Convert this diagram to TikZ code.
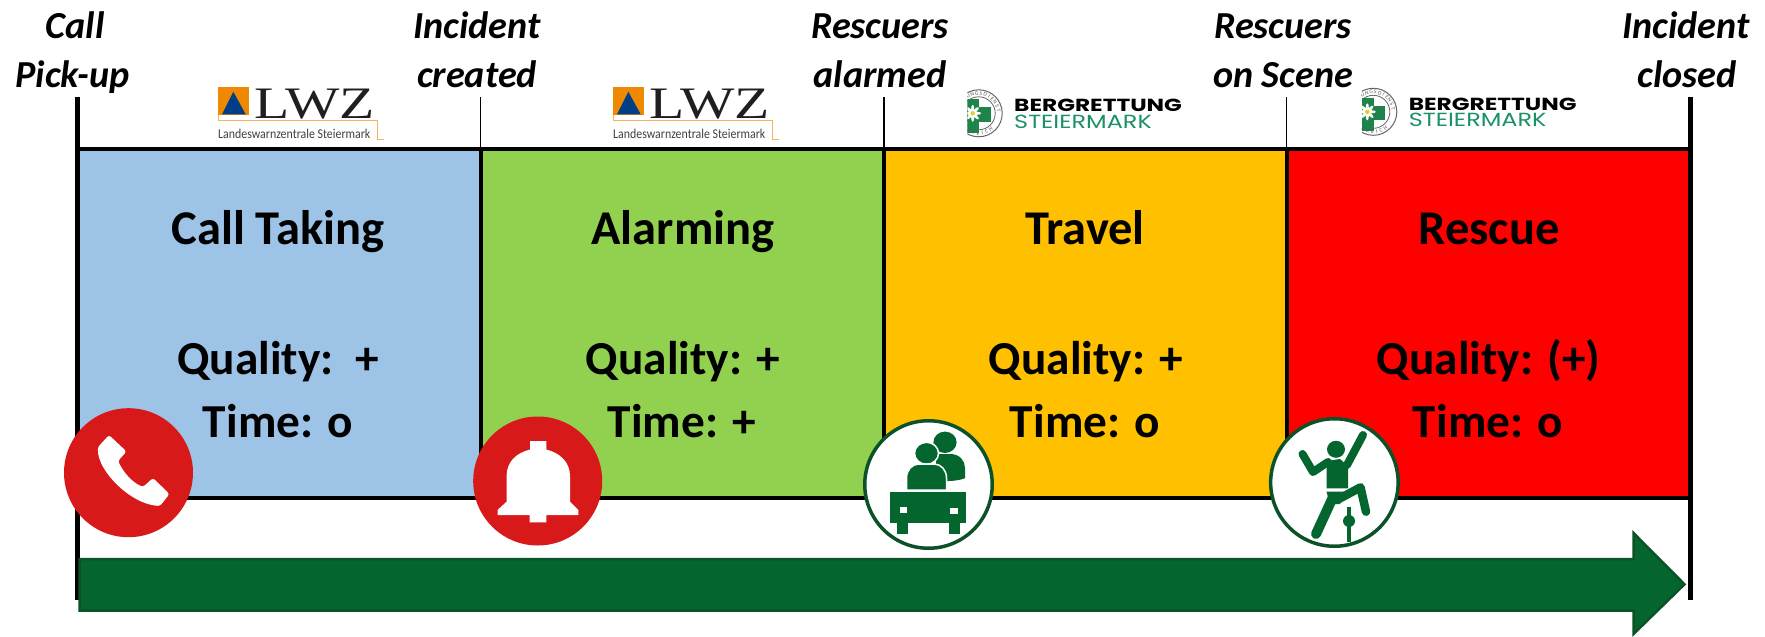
\documentclass[tikz,border=0pt]{standalone}
\usepackage{fontspec}
\usepackage{graphicx}
\setmainfont{Carlito}
\newfontfamily\logoserif{Liberation Serif}
\newfontfamily\logosans{Poppins}
\definecolor{phaseblue}{HTML}{9DC3E6}
\definecolor{phasegreen}{HTML}{92D050}
\definecolor{phaseorange}{HTML}{FFC000}
\definecolor{phasered}{HTML}{FF0000}
\definecolor{icongreen}{HTML}{04662E}
\definecolor{edgegreen}{HTML}{0B5229}
\definecolor{alarmred}{HTML}{D81919}
\definecolor{lwzorange}{HTML}{EF8A00}
\definecolor{lwzline}{HTML}{F6B25C}
\definecolor{lwzblue}{HTML}{003F87}
\definecolor{bergtext}{HTML}{1B9265}
\definecolor{crossgreen}{HTML}{1E8449}
\tikzset{
  phase/.style={rectangle,draw=black,line width=4pt,inner sep=0pt,minimum width=403.5pt,minimum height=349pt,anchor=center},
  headlabel/.style={font=\fontsize{38.2}{38.2}\selectfont\bfseries\itshape,anchor=base,inner sep=0pt},
  titlelabel/.style={font=\fontsize{48.5}{48.5}\selectfont\bfseries,anchor=base,inner sep=0pt},
  infolabel/.style={font=\fontsize{47.3}{47.3}\selectfont\bfseries,anchor=base,inner sep=0pt},
  bar/.style={line width=5pt,black},
  tick/.style={line width=1.5pt,black},
  redbadge/.style={circle,fill=alarmred,inner sep=0pt,minimum size=129pt},
  greenbadge/.style={circle,fill=white,draw=edgegreen,line width=3.5pt,inner sep=0pt,minimum size=127.5pt},
  ringletter/.style={font=\fontsize{5.5}{5.5}\selectfont,text=black!65,inner sep=0pt},
}
\newcommand{\lwzlogo}[2]{%
\begin{scope}[shift={(#2,0)}]
  \fill[lwzorange] (218.3,87.3) rectangle (249.3,115);
  \fill[lwzblue] (233.3,91.7) -- (245.7,114.3) -- (222,114.3) -- cycle;
  \draw[lwzline,line width=1pt] (218.8,115) -- (218.8,120.7) -- (377.7,120.7) -- (377.7,139.3) -- (384,139.3);
  \node[anchor=base west,inner sep=0pt,text=black!88,font=\logoserif\fontsize{45}{45}\selectfont] (#1word) at (254,118) {\scalebox{1.28}[1]{LWZ}};
  \node[anchor=base west,inner sep=0pt,text=black!75,font=\fontsize{13.5}{13.5}\selectfont] (#1sub) at (218,138) {\scalebox{.88}[1]{Landeswarnzentrale Steiermark}};
\end{scope}}
\newcommand{\berglogo}[3]{%
\begin{scope}[shift={(#2,#3)}]
  \begin{scope}
    \clip (967.3,80) rectangle (1010,145);
    \fill[white] (978.7,113.3) circle[radius=24];
    \draw[black!60,line width=1pt] (978.7,113.3) circle[radius=23.5];
    \draw[black!60,line width=.8pt] (978.7,113.3) circle[radius=16.5];
    \fill[crossgreen] (967,99) rectangle (979.3,132.7);
    \fill[crossgreen] (967,107.3) rectangle (990.7,121.7);
    \foreach \a in {0,45,...,315}
      \fill[white,rotate around={\a:(972.7,113.3)}] (976.7,113.3) ellipse[x radius=4.5,y radius=1.6];
    \fill[yellow!85!black] (972.7,113.3) circle[radius=2.2];
    \foreach \ch/\a [count=\i] in {U/122,N/109,G/96,S/84,D/71,I/59,E/47,N/35,S/22,T/9}
      \node[ringletter,rotate=\a-90] (#1top\i) at ({978.7+20*cos(\a)},{113.3-20*sin(\a)}) {\ch};
    \foreach \ch/\a [count=\i] in {R/-120,R/-106,E/-92,I/-80,C/-67,H/-53}
      \node[ringletter,rotate=\a+90] (#1bot\i) at ({978.7+20*cos(\a)},{113.3-20*sin(\a)}) {\ch};
  \end{scope}
  \node[anchor=base west,inner sep=0pt,text=black,font=\logosans\bfseries\fontsize{17.5}{17.5}\selectfont] (#1a) at (1014,111.7) {\scalebox{1.33}[1]{BERGRETTUNG}};
  \node[anchor=base west,inner sep=0pt,text=bergtext,font=\logosans\fontsize{19}{19}\selectfont] (#1b) at (1014,128.3) {\scalebox{1.26}[1]{STEIERMARK}};
\end{scope}}
\begin{document}
\begin{tikzpicture}[x=1pt,y=-1pt]
\useasboundingbox (0,0) rectangle (1765,637);
\fill[white] (0,0) rectangle (1765,637);
% time marks
\coordinate (m0) at (77,97);
\coordinate (m1) at (480.5,97);
\coordinate (m2) at (884,97);
\coordinate (m3) at (1286.5,97);
\coordinate (m4) at (1690,97);
\coordinate (b0) at (77,600);
\coordinate (b4) at (1690,600);
% phases
\node[phase,fill=phaseblue] (callbox) at (278.75,323.5) {};
\node[phase,fill=phasegreen] (alarmbox) at (682.25,323.5) {};
\node[phase,fill=phaseorange] (travelbox) at (1085.25,323.5) {};
\node[phase,fill=phasered] (rescuebox) at (1488.25,323.5) {};
\draw[tick] (m1) -- (m1 |- callbox.north);
\draw[tick] (m2) -- (m2 |- alarmbox.north);
\draw[tick] (m3) -- (m3 |- travelbox.north);
\draw[bar] (m0) -- (b0);
\draw[bar] (m4) -- (b4);
% head labels
\node[headlabel] (h0a) at (75,38) {Call};
\node[headlabel] (h0b) at (72.7,87) {Pick-up};
\node[headlabel] (h1a) at (477,38) {Incident};
\node[headlabel] (h1b) at (477,87) {created};
\node[headlabel] (h2a) at (880,38) {Rescuers};
\node[headlabel] (h2b) at (880,87) {alarmed};
\node[headlabel] (h3a) at (1283,38) {Rescuers};
\node[headlabel] (h3b) at (1283,87) {on Scene};
\node[headlabel] (h4a) at (1686,38) {Incident};
\node[headlabel] (h4b) at (1687,87) {closed};
% logos
\lwzlogo{lwza}{0}
\lwzlogo{lwzb}{395}
\berglogo{berga}{0}{0}
\berglogo{bergb}{394.6}{-1.5}
% phase texts
\node[titlelabel] (t1) at (278,244) {Call Taking};
\node[infolabel] (q1) at (278,374) {Quality:\ \ +};
\node[infolabel] (c1) at (278,437) {Time: o};
\node[titlelabel] (t2) at (683,244) {Alarming};
\node[infolabel] (q2) at (683,374) {Quality: +};
\node[infolabel] (c2) at (682,437) {Time: +};
\node[titlelabel] (t3) at (1085,244) {Travel};
\node[infolabel] (q3) at (1086,374) {Quality: +};
\node[infolabel] (c3) at (1085,437) {Time: o};
\node[titlelabel] (t4) at (1489,244) {Rescue};
\node[infolabel] (q4) at (1488.6,374) {Quality: (+)};
\node[infolabel] (c4) at (1488,437) {Time: o};
% time arrow
\draw[fill=icongreen,draw=edgegreen,line width=2.5pt,miter limit=10]
  (79.5,559) -- (1633.5,559) -- (1633.5,533) -- (1684.5,584.3) -- (1633.5,634) -- (1633.5,610.5) -- (79.5,610.5) -- cycle;
% badges
\node[redbadge] (phone) at (128.5,472.7) {};
\fill[white,rounded corners=2.5pt] (109,435) -- (126.5,451.5) -- (118,461) .. controls (124,473) and (132,482) .. (143,487) -- (153,478) -- (169.5,494) -- (160,506) .. controls (130,504) and (97,470) .. (98,447) -- cycle;
\node[redbadge] (bell) at (537.7,481) {};
\fill[white] (530,441) -- (546.4,441) -- (546.4,449.5) .. controls (560,453) and (570,462) .. (570,476) -- (570,501.7) -- (578.4,510) -- (578.4,515) -- (546.4,515) -- (546.4,522.3) -- (529.5,522.3) -- (529.5,515) -- (497.5,515) -- (497.5,510) -- (506.6,501.7) -- (506.6,476) .. controls (506.6,462) and (516,453) .. (530,449.5) -- cycle;
\node[greenbadge] (car) at (928.5,484.5) {};
\fill[icongreen] (945,442.3) ellipse[x radius=11.6,y radius=10.7];
\fill[icongreen] (936,454) -- (950,454) .. controls (960,454) and (965,461) .. (965,468) -- (965,478.3) .. controls (960,480) and (954,481) .. (948.4,481) -- (936,481) -- cycle;
\draw[icongreen,fill=icongreen,draw=white,line width=1.5pt] (926.5,453.3) ellipse[x radius=12,y radius=11];
\draw[fill=icongreen,draw=white,line width=1.5pt] (906.5,490) -- (906.5,478) .. controls (906.5,470) and (912,464) .. (919,464) -- (934,464) .. controls (941,464) and (946.5,470) .. (946.5,478) -- (946.5,490) -- cycle;
\fill[icongreen] (890.4,491.7) rectangle (965.8,522.7);
\fill[icongreen] (897,522.7) rectangle (907.8,534);
\fill[icongreen] (949.3,522.7) rectangle (960,534);
\fill[white] (899.5,506.7) rectangle (907,513.3);
\fill[white] (950,508.3) rectangle (957.5,514.3);
\node[greenbadge] (climber) at (1334.4,482.5) {};
\fill[icongreen] (1336,449.3) ellipse[x radius=9,y radius=8.5];
\fill[icongreen] (1326.5,461) -- (1340,459) -- (1348,466) -- (1348,488.3) -- (1326.5,488.3) -- cycle;
\draw[icongreen,line width=8pt,line cap=round,line join=round] (1347,465) -- (1363,435);
\draw[icongreen,line width=8pt,line cap=round,line join=round] (1328,462) -- (1313,472) -- (1302.5,454);
\fill[icongreen] (1326.5,491.7) -- (1344,491.7) -- (1340,504) -- (1330,504) -- cycle;
\draw[icongreen,line width=10pt,line cap=round] (1333,497) -- (1316,534);
\draw[icongreen,line width=8.5pt,line cap=round,line join=round] (1337,500) -- (1360.5,487.3) -- (1366,511.7);
\draw[icongreen,line width=4.5pt] (1349,506.5) -- (1349,542);
\fill[icongreen] (1349,521) circle[radius=6];
\end{tikzpicture}
\end{document}
